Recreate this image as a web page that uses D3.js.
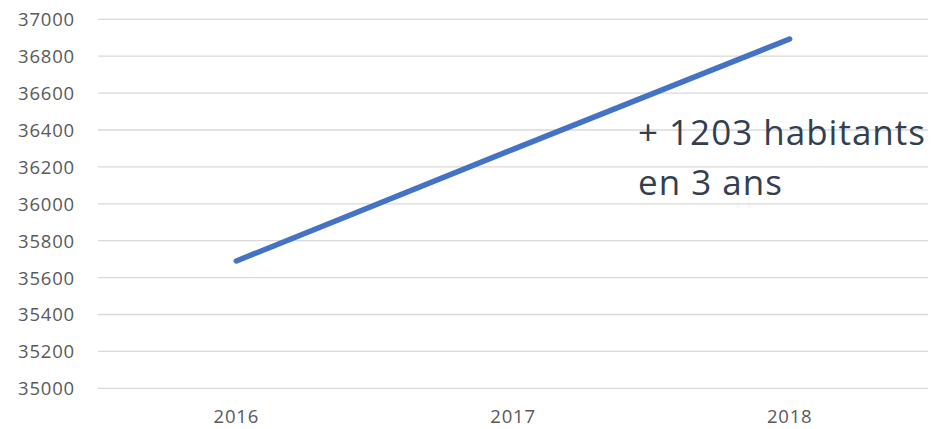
<!DOCTYPE html>
<html><head><meta charset="utf-8">
<script src="https://cdn.jsdelivr.net/npm/d3@7"></script>
<style>body{margin:0;background:#fff}svg{display:block}</style>
</head><body>
<svg id="chart" width="933" height="429"></svg>
<script>
const years = ["2016", "2017", "2018"];
const population = [35690, 36295, 36893];
const yTicks = [35000, 35200, 35400, 35600, 35800, 36000, 36200, 36400, 36600, 36800, 37000];
const annotationLines = ["+ 1203 habitants", "en 3 ans"];

const svg = d3.select("#chart");
const plotLeft = 98, plotRight = 928, plotTop = 19.3, plotBottom = 388.3;

const x = d3.scaleBand().domain(years).range([plotLeft, plotRight]);
const y = d3.scaleLinear().domain([35000, 37000]).range([plotBottom, plotTop]);

// gridlines
svg.append("g").selectAll("line").data(yTicks).join("line")
  .attr("x1", plotLeft).attr("x2", plotRight)
  .attr("y1", d => y(d)).attr("y2", d => y(d))
  .attr("stroke", "#d9d9d9").attr("stroke-width", 1.3);

// y axis labels
const yAxis = svg.append("g").attr("transform", `translate(${plotLeft - 23},0)`)
  .call(d3.axisLeft(y).tickValues(yTicks).tickSize(0).tickPadding(0).tickFormat(d3.format("d")));
yAxis.select(".domain").remove();
yAxis.selectAll("text").attr("fill", "#595959")
  .style("font-family", "'Open Sans', sans-serif").style("font-size", "18.5px")
  .style("letter-spacing", "0.8px").attr("dy", "0.35em");

// x axis labels
const xAxis = svg.append("g").attr("transform", `translate(0,${plotBottom})`)
  .call(d3.axisBottom(x).tickSize(0).tickPadding(22));
xAxis.select(".domain").remove();
xAxis.selectAll("text").attr("fill", "#595959")
  .style("font-family", "'Open Sans', sans-serif").style("font-size", "18.5px")
  .style("letter-spacing", "0.8px");

// line
const line = d3.line().x((d, i) => x(years[i]) + x.bandwidth() / 2).y(d => y(d));
svg.append("path").datum(population)
  .attr("d", line).attr("fill", "none")
  .attr("stroke", "#4472c4").attr("stroke-width", 5.5)
  .attr("stroke-linecap", "round").attr("stroke-linejoin", "round");

// annotation
svg.append("g").selectAll("text").data(annotationLines).join("text")
  .attr("x", 638).attr("y", (d, i) => 145 + i * 50)
  .attr("fill", "#333f50")
  .style("font-family", "'Open Sans', sans-serif").style("font-size", "35px")
  .style("letter-spacing", "1px")
  .text(d => d);
</script>
</body></html>
